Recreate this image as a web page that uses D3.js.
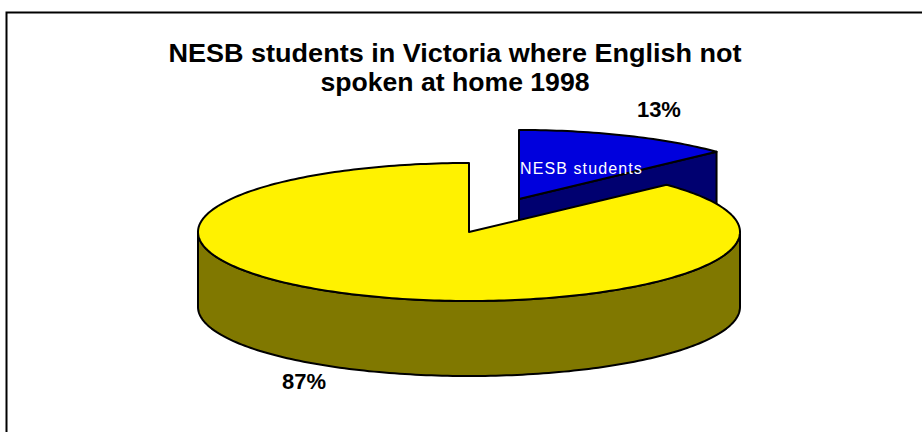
<!DOCTYPE html>
<html>
<head>
<meta charset="utf-8">
<script src="https://cdn.jsdelivr.net/npm/d3@7"></script>
<style>
  body { margin: 0; background: #fff; }
  svg { display: block; }
</style>
</head>
<body>
<svg id="chart"></svg>
<script>
// Data
const categories = ["NESB students", "Other students"];
const shares = [13, 87];
const percentLabels = ["13%", "87%"];
const showName = [true, false];
const titleLines = ["NESB students in Victoria where English not", "spoken at home 1998"];

// Layout
const width = 922, height = 432;
const cx = 469, cy = 232;      // pie centre (top face)
const rx = 271, ry = 69;       // ellipse radii of the tilted pie
const depth = 75;              // thickness of the pie
const explode = [[50, -33], [0, 0]];
const labelShift = [[0, 0], [-25, 0]];
const titleWidths = [573, 269];
const topColors = ["#0000dd", "#fff200"];
const sideColors = ["#000070", "#807800"];

const svg = d3.select("#chart")
    .attr("width", width)
    .attr("height", height);

// chart frame (runs off the right and bottom of the window)
svg.append("rect")
    .attr("x", 6.5).attr("y", 12.5)
    .attr("width", width).attr("height", height)
    .attr("fill", "none")
    .attr("stroke", "#000")
    .attr("stroke-width", 2);

// title
svg.append("g")
    .selectAll("text")
    .data(titleLines)
    .join("text")
    .attr("x", 455)
    .attr("y", (d, i) => 62 + i * 29)
    .attr("text-anchor", "middle")
    .attr("textLength", (d, i) => titleWidths[i])
    .attr("lengthAdjust", "spacingAndGlyphs")
    .style("font-family", "'Liberation Sans', Arial, sans-serif")
    .style("font-weight", "bold")
    .style("font-size", "25.5px")
    .text(d => d);

// pie angles: 0 at 12 o'clock, clockwise
const pie = d3.pie().sort(null).value(d => d);
const arcs = pie(shares).map((a, i) => ({
    ...a,
    i,
    ox: cx + explode[i][0],
    oy: cy + explode[i][1]
}));

// point on the ellipse rim for angle a
function rim(a, ox, oy, dz = 0) {
    return [ox + rx * Math.sin(a), oy - ry * Math.cos(a) + dz];
}

function arcPoints(a0, a1, ox, oy, dz = 0) {
    const n = Math.max(2, Math.ceil(Math.abs(a1 - a0) / 0.02));
    return d3.range(n + 1).map(k => rim(a0 + (a1 - a0) * k / n, ox, oy, dz));
}

const line = d3.line();

// back slices first
const order = arcs.slice().sort((p, q) =>
    -Math.cos((p.startAngle + p.endAngle) / 2) - -Math.cos((q.startAngle + q.endAngle) / 2));

const g = svg.append("g")
    .attr("stroke", "#000")
    .attr("stroke-width", 2)
    .attr("stroke-linejoin", "round");

order.forEach(d => {
    const s = g.append("g");
    const { ox, oy, startAngle: a0, endAngle: a1 } = d;

    // radial face at the clockwise end, if it faces the viewer
    if (Math.sin(a1) > 1e-6) {
        const p = rim(a1, ox, oy);
        s.append("path")
            .attr("d", line([[ox, oy], p, [p[0], p[1] + depth], [ox, oy + depth]]) + "Z")
            .attr("fill", sideColors[d.i]);
    }
    // radial face at the start, if it faces the viewer
    if (Math.sin(a0) < -1e-6) {
        const p = rim(a0, ox, oy);
        s.append("path")
            .attr("d", line([[ox, oy], p, [p[0], p[1] + depth], [ox, oy + depth]]) + "Z")
            .attr("fill", sideColors[d.i]);
    }

    // outer side wall: only the front half (pi/2 .. 3pi/2) shows
    const s0 = Math.max(a0, Math.PI / 2), s1 = Math.min(a1, 3 * Math.PI / 2);
    if (s1 > s0) {
        const pts = arcPoints(s0, s1, ox, oy).concat(arcPoints(s1, s0, ox, oy, depth));
        s.append("path")
            .attr("d", line(pts) + "Z")
            .attr("fill", sideColors[d.i]);
    }

    // top face
    s.append("path")
        .attr("d", line([[ox, oy]].concat(arcPoints(a0, a1, ox, oy))) + "Z")
        .attr("fill", topColors[d.i]);
});

// labels
const labels = svg.append("g")
    .style("font-family", "'Liberation Sans', Arial, sans-serif");

arcs.forEach(d => {
    const mid = (d.startAngle + d.endAngle) / 2;
    const front = Math.cos(mid) < 0;
    const x = d.ox + rx * 1.3 * Math.sin(mid) + labelShift[d.i][0];
    const y = d.oy - ry * 1.3 * Math.cos(mid) + (front ? depth : 0) + labelShift[d.i][1];

    labels.append("text")
        .attr("x", x)
        .attr("y", y)
        .attr("text-anchor", "middle")
        .style("font-weight", "bold")
        .style("font-size", "22px")
        .text(percentLabels[d.i]);

    if (showName[d.i]) {
        labels.append("text")
            .attr("x", d.ox + 1)
            .attr("y", d.oy - 25)
            .attr("fill", "#fff")
            .style("font-size", "16px")
            .style("letter-spacing", "1.1px")
            .text(categories[d.i]);
    }
});
</script>
</body>
</html>
